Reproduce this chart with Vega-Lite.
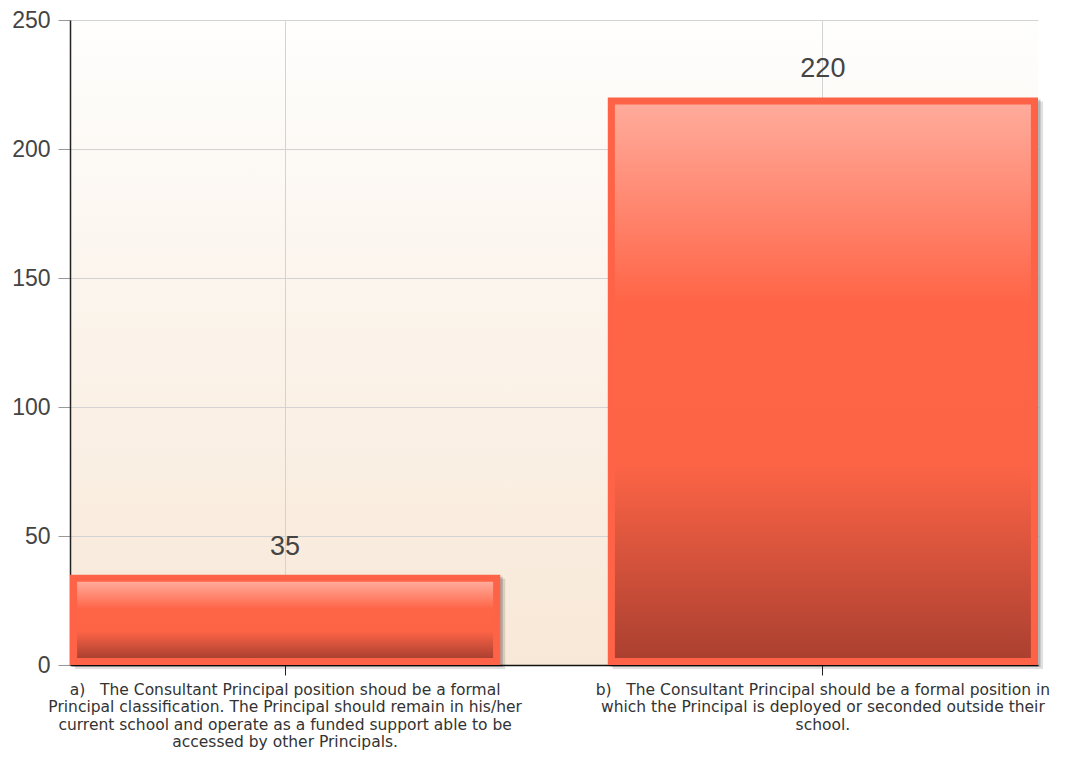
{
  "$schema": "https://vega.github.io/schema/vega-lite/v6.json",
  "width": 968,
  "height": 645,
  "padding": {"left": 70, "top": 20, "right": 32, "bottom": 97},
  "autosize": {"type": "none"},
  "background": "white",
  "config": {
    "font": "Liberation Sans",
    "view": {
      "stroke": null,
      "fill": {"gradient": "linear", "x1": 0, "y1": 0, "x2": 0, "y2": 1, "stops": [{"offset": 0, "color": "#fefefd"}, {"offset": 1, "color": "#f8e8d7"}]}
    }
  },
  "data": {
    "values": [
      {"label": "a)\u00a0\u00a0\u00a0The Consultant Principal position shoud be a formal|Principal classification. The Principal should remain in his/her|current school and operate as a funded support able to be|accessed by other Principals.", "value": 35},
      {"label": "b)\u00a0\u00a0\u00a0The Consultant Principal should be a formal position in|which the Principal is deployed or seconded outside their|school.", "value": 220}
    ]
  },
  "encoding": {
    "x": {
      "field": "label", "type": "nominal", "sort": null,
      "scale": {"paddingInner": 0.2, "paddingOuter": 0},
      "axis": {
        "title": null, "labelExpr": "split(datum.label, '|')", "labelAngle": 0,
        "labelFont": "DejaVu Sans", "labelFontSize": 15.5, "labelLineHeight": 17.5, "labelLimit": 0, "labelColor": "#333",
        "labelBaseline": "top", "labelPadding": 7, "tickSize": 10, "tickColor": "#222",
        "domainColor": "#111", "domainWidth": 1.5, "grid": true, "gridColor": "#d3d3d3", "bandPosition": 0.5
      }
    },
    "y": {
      "field": "value", "type": "quantitative",
      "scale": {"domain": [0, 250]},
      "axis": {
        "title": null, "values": [0, 50, 100, 150, 200, 250], "labelFontSize": 23, "labelColor": "#444",
        "labelPadding": 8, "tickSize": 12, "tickColor": "#999", "domainColor": "#222", "domainWidth": 1.5,
        "gridColor": "#d3d3d3"
      }
    }
  },
  "layer": [
    {"mark": {"type": "bar", "color": "#000", "opacity": 0.12, "xOffset": 5, "yOffset": 4, "y2Offset": 4}},
    {"mark": {"type": "bar", "color": "#000", "opacity": 0.2, "xOffset": 2.5, "yOffset": 2, "y2Offset": 2}},
    {"mark": {"type": "bar", "color": "#ff6347"}},
    {"mark": {"type": "bar", "size": 416, "yOffset": 7, "y2Offset": -7,
      "color": {"gradient": "linear", "x1": 0, "y1": 0, "x2": 0, "y2": 1, "stops": [
        {"offset": 0, "color": "#ffab9b"},
        {"offset": 0.36, "color": "#ff6446"},
        {"offset": 0.65, "color": "#fd6446"},
        {"offset": 1, "color": "#ab4030"}
      ]}},
     "encoding": {"y2": {"datum": 0}}},
    {"mark": {"type": "text", "dy": -20, "baseline": "alphabetic", "fontSize": 27, "color": "#444"},
     "encoding": {"text": {"field": "value", "type": "quantitative"}}}
  ]
}
